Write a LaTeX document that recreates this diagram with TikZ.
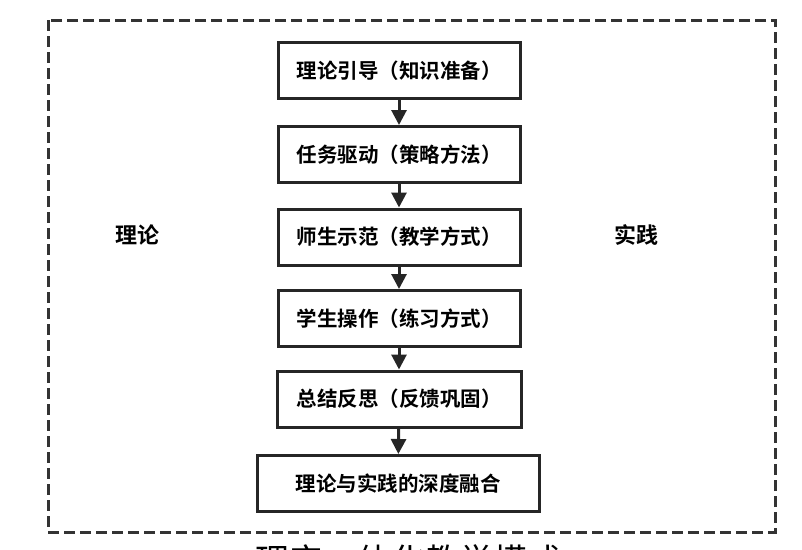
\documentclass[tikz,border=0pt]{standalone}
\usepackage{fontspec}
\setmainfont{Noto Sans CJK SC}[BoldFont={Noto Sans CJK SC Bold}]
\usetikzlibrary{arrows.meta}
\begin{document}
\begin{tikzpicture}[x=1pt,y=-1pt,
  stepbox/.style={draw=black!85,line width=3pt,minimum height=56pt,font=\fontsize{20.5}{20.5}\selectfont\bfseries,inner sep=0pt},
  flow/.style={draw=black!85,line width=3pt,-{Triangle[width=15pt,length=15pt]}},
  side/.style={font=\fontsize{22}{22}\selectfont\bfseries}]
\useasboundingbox (0,0) rectangle (802,549);
\draw[black!80,line width=3pt,dash pattern=on 11pt off 5pt] (48,20) rectangle (775,532);
\node[stepbox,minimum width=242pt] (a) at (399,70.5) {理论引导（知识准备）};
\node[stepbox,minimum width=242pt] (b) at (399,154.5) {任务驱动（策略方法）};
\node[stepbox,minimum width=242pt] (c) at (399,237) {师生示范（教学方式）};
\node[stepbox,minimum width=242pt] (d) at (399,318.5) {学生操作（练习方式）};
\node[stepbox,minimum width=244pt] (e) at (399,399) {总结反思（反馈巩固）};
\node[stepbox,minimum width=282pt] (f) at (398,483.5) {理论与实践的深度融合};
\draw[flow] (a) -- (b);
\draw[flow] (b) -- (c);
\draw[flow] (c) -- (d);
\draw[flow] (d) -- (e);
\draw[flow] (e) -- (f);
\node[side] (l) at (137,235) {理论};
\node[side] (r) at (636,235) {实践};
\node[font=\fontsize{34}{34}\selectfont,anchor=base] (cap) at (408,573) {理实一体化教学模式};
\end{tikzpicture}
\end{document}
